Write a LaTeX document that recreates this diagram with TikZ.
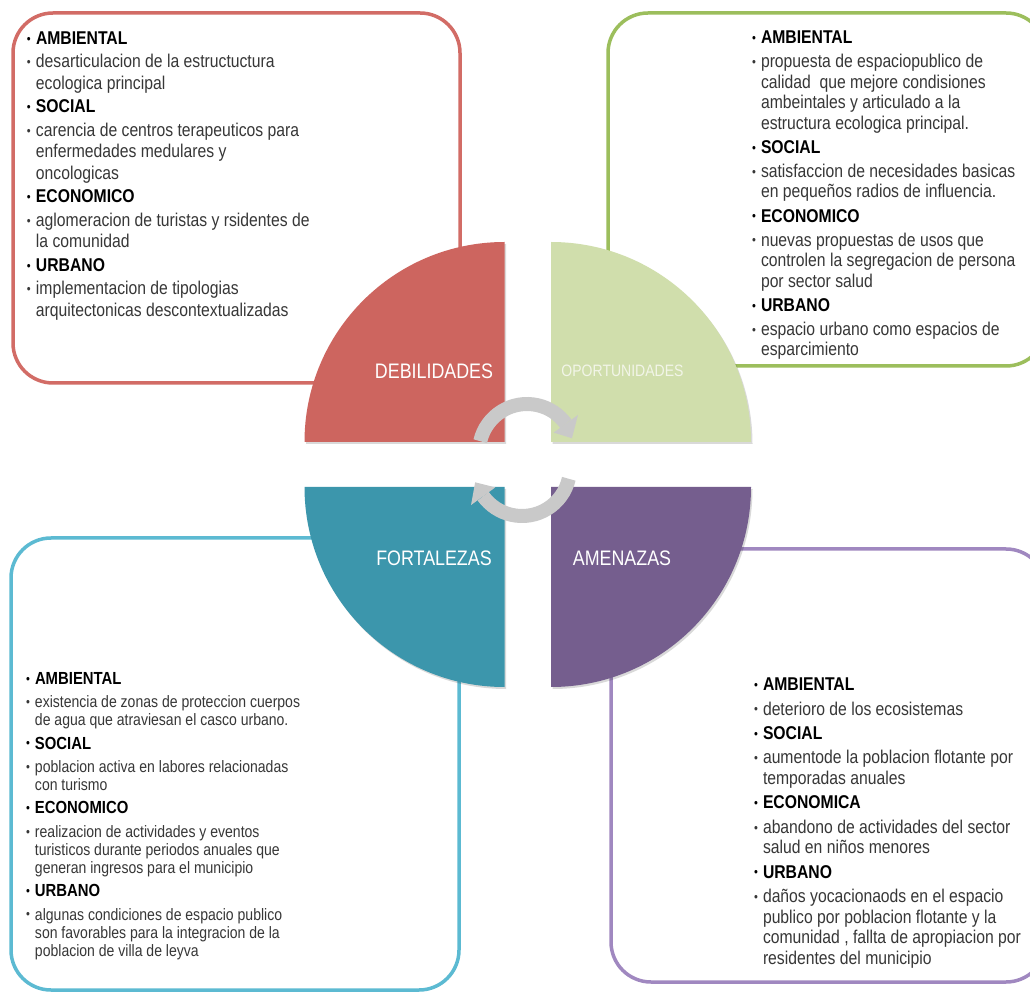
\documentclass[tikz,border=0pt]{standalone}
\usepackage{fontspec}
\setmainfont{Liberation Sans}[FakeStretch=0.85]
\usetikzlibrary{arrows.meta}
\definecolor{redq}{RGB}{205,101,95}
\definecolor{greenq}{RGB}{208,222,172}
\definecolor{tealq}{RGB}{60,150,172}
\definecolor{purpq}{RGB}{117,94,142}
\definecolor{redb}{RGB}{210,108,102}
\definecolor{greenb}{RGB}{156,190,92}
\definecolor{tealb}{RGB}{92,186,210}
\definecolor{purpb}{RGB}{160,136,192}
\definecolor{arrowgray}{RGB}{201,201,201}
\definecolor{itemgray}{RGB}{55,55,55}
\definecolor{oplbl}{RGB}{242,245,232}
\newlength\bw \setlength\bw{9pt}
\newcommand\bul{\raisebox{1.2pt}{\fontsize{13}{13}\selectfont\textbullet}}
\newcommand\hdl[1]{\hbox{\makebox[\bw][l]{\bul}\textbf{#1}}}
\newcommand\itl[1]{\hbox{\color{itemgray}\makebox[\bw][l]{\bul}#1}}
\newcommand\cnl[1]{\hbox{\color{itemgray}\hspace{\bw}#1}}
\newcommand\shd[1]{\hbox{\fontsize{17.5}{18}\selectfont\makebox[\bw][l]{\bul}\textbf{#1}}}
\tikzset{
  swbox/.style={fill=white, line width=3.5pt, rounded corners=40pt},
  txt/.style={anchor=base west, inner sep=0pt, outer sep=0pt},
  qlbl/.style={inner sep=0pt, text=white, font=\fontsize{21}{21}\selectfont},
  qshadow/.style={fill=black, opacity=0.15},
  cyc/.style={draw=arrowgray, line width=14pt},
  cychead/.style={fill=arrowgray}
}
\begin{document}
\begin{tikzpicture}[x=1pt,y=1pt]
\useasboundingbox (0,0) rectangle (1030,994);
\clip (0,0) rectangle (1030,994);
\fill[white] (0,0) rectangle (1030,994);
% boxes
\draw[swbox, draw=redb] (13,611) rectangle (460,981);
\draw[swbox, draw=greenb] (608,628) rectangle (1046,981);
\draw[swbox, draw=tealb] (11,4) rectangle (459,456);
\draw[swbox, draw=purpb] (611,12) rectangle (1046,445);
% quadrant shadows
\fill[qshadow] (506,550) -- (306,550) arc[start angle=180,end angle=90,radius=200pt] -- cycle;
\fill[qshadow] (552.5,550) -- (552.5,750) arc[start angle=90,end angle=0,radius=200pt] -- cycle;
\fill[qshadow] (506,505) -- (306,505) arc[start angle=180,end angle=270,radius=200pt] -- cycle;
\fill[qshadow] (552.5,505) -- (552.5,305) arc[start angle=270,end angle=360,radius=200pt] -- cycle;
% quadrants
\fill[redq] (504.5,552) -- (304.5,552) arc[start angle=180,end angle=90,radius=200pt] -- cycle;
\fill[greenq] (551,552) -- (551,752) arc[start angle=90,end angle=0,radius=200pt] -- cycle;
\fill[tealq] (504.5,507) -- (304.5,507) arc[start angle=180,end angle=270,radius=200pt] -- cycle;
\fill[purpq] (551,507) -- (551,307) arc[start angle=270,end angle=360,radius=200pt] -- cycle;
% labels
\node[qlbl] (deb) at (434,623) {DEBILIDADES};
\node[qlbl, text=oplbl, font=\fontsize{16.5}{16.5}\selectfont] (opo) at (622.5,623) {OPORTUNIDADES};
\node[qlbl] (fort) at (434,436) {FORTALEZAS};
\node[qlbl] (amen) at (622,436) {AMENAZAS};
% cycle arrows
\coordinate (c1) at (527,542);
\coordinate (c2) at (522,526);
\draw[cyc] ([shift={(167:48pt)}]c1) arc[start angle=167,end angle=36,radius=48pt];
\fill[cychead] ([shift={(36:33pt)}]c1) -- ([shift={(36:63pt)}]c1) -- ([shift={(17:47pt)}]c1) -- cycle;
\draw[cyc] ([shift={(-13:48pt)}]c2) arc[start angle=-13,end angle=-144,radius=48pt];
\fill[cychead] ([shift={(-144:33pt)}]c2) -- ([shift={(-144:63pt)}]c2) -- ([shift={(-163:49pt)}]c2) -- cycle;
% texts
\node[txt] (tltext) at (27,949.5) {\vtop{\fontsize{18.5}{21.5}\selectfont
\hdl{AMBIENTAL}
\vskip2pt
\itl{desarticulacion de la estructuctura}
\cnl{ecologica principal}
\vskip2pt
\hdl{SOCIAL}
\vskip2pt
\itl{carencia de centros terapeuticos para}
\cnl{enfermedades medulares y}
\cnl{oncologicas}
\vskip2pt
\hdl{ECONOMICO}
\vskip2pt
\itl{aglomeracion de turistas y rsidentes de}
\cnl{la comunidad}
\vskip2pt
\hdl{URBANO}
\vskip2pt
\itl{implementacion de tipologias}
\cnl{arquitectonicas descontextualizadas}
}};
\node[txt] (trtext) at (752,950.3) {\vtop{\fontsize{18.5}{20.5}\selectfont
\hdl{AMBIENTAL}
\vskip3.6pt
\itl{propuesta de espaciopublico de}
\cnl{calidad\ \ que mejore condisiones}
\cnl{ambeintales y articulado a la}
\cnl{estructura ecologica principal.}
\vskip3.6pt
\hdl{SOCIAL}
\vskip3.6pt
\itl{satisfaccion de necesidades basicas}
\cnl{en pequeños radios de influencia.}
\vskip3.6pt
\hdl{ECONOMICO}
\vskip3.6pt
\itl{nuevas propuestas de usos que}
\cnl{controlen la segregacion de persona}
\cnl{por sector salud}
\vskip3.6pt
\hdl{URBANO}
\vskip3.6pt
\itl{espacio urbano como espacios de}
\cnl{esparcimiento}
}};
\node[txt] (bltext) at (26,309.7) {\vtop{\fontsize{16.5}{18}\selectfont
\shd{AMBIENTAL}
\vskip5.4pt
\itl{existencia de zonas de proteccion cuerpos}
\cnl{de agua que atraviesan el casco urbano.}
\vskip5.4pt
\shd{SOCIAL}
\vskip5.4pt
\itl{poblacion activa en labores relacionadas}
\cnl{con turismo}
\vskip5.4pt
\shd{ECONOMICO}
\vskip5.4pt
\itl{realizacion de actividades y eventos}
\cnl{turisticos durante periodos anuales que}
\cnl{generan ingresos para el municipio}
\vskip5.4pt
\shd{URBANO}
\vskip5.4pt
\itl{algunas condiciones de espacio publico}
\cnl{son favorables para la integracion de la}
\cnl{poblacion de villa de leyva}
}};
\node[txt] (brtext) at (754,303.3) {\vtop{\fontsize{18.5}{20.5}\selectfont
\hdl{AMBIENTAL}
\vskip3.9pt
\itl{deterioro de los ecosistemas}
\vskip3.9pt
\hdl{SOCIAL}
\vskip3.9pt
\itl{aumentode la poblacion flotante por}
\cnl{temporadas anuales}
\vskip3.9pt
\hdl{ECONOMICA}
\vskip3.9pt
\itl{abandono de actividades del sector}
\cnl{salud en niños menores}
\vskip3.9pt
\hdl{URBANO}
\vskip3.9pt
\itl{daños yocacionaods en el espacio}
\cnl{publico por poblacion flotante y la}
\cnl{comunidad , fallta de apropiacion por}
\cnl{residentes del municipio}
}};
\end{tikzpicture}
\end{document}
